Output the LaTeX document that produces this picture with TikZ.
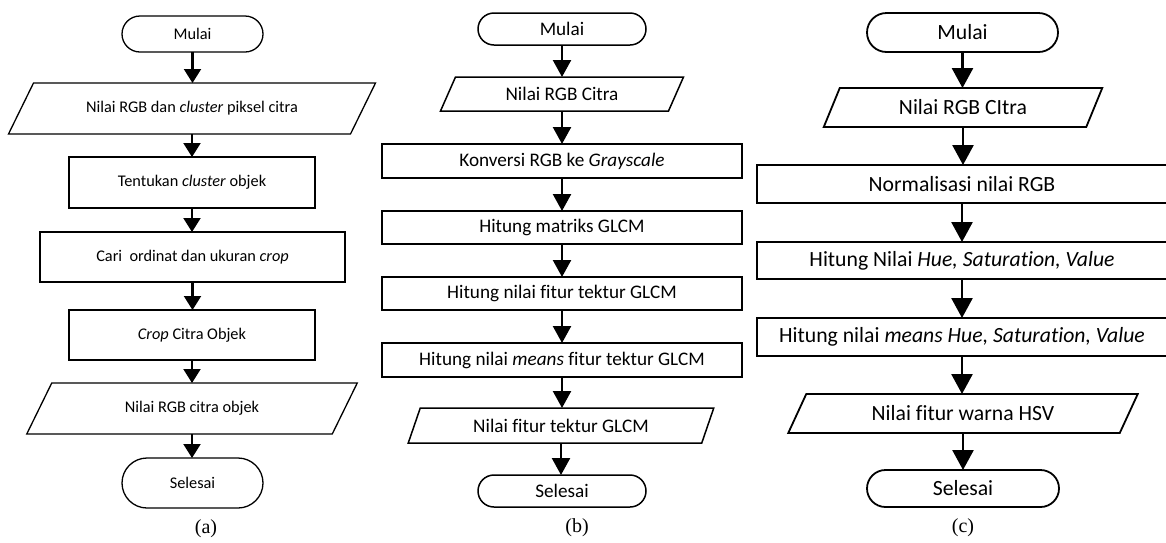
\documentclass[tikz,border=0pt]{standalone}
\usepackage{fontspec}
\setmainfont[Ligatures={NoCommon,NoContextual}]{Carlito}
\newfontfamily\capfont{Liberation Serif}
\usetikzlibrary{arrows.meta}
\newcommand\iopara[3][]{\draw[#1] ([xshift=#3/2]#2.north west) -- ([xshift=#3/2]#2.north east) -- ([xshift=-#3/2]#2.south east) -- ([xshift=-#3/2]#2.south west) -- cycle;}
\begin{document}
\begin{tikzpicture}[x=1pt,y=-1pt,
  base/.style={rectangle, inner sep=0pt, outer sep=0pt, align=center, text=black},
  proc/.style={base, draw},
  term/.style={base, draw},
  io/.style={base},
  pa/.style={font=\fontsize{16.3}{19}\selectfont, line width=1.3pt},
  pb/.style={font=\fontsize{19.2}{23}\selectfont, line width=1.5pt},
  pc/.style={font=\fontsize{21.7}{26}\selectfont, line width=1.8pt},
  arra/.style={line width=2.1pt, -{Triangle[width=17pt,length=14pt]}},
  arrb/.style={line width=2.4pt, -{Triangle[width=18pt,length=17pt]}},
  arrc/.style={line width=2.7pt, -{Triangle[width=21pt,length=20pt]}},
  captxt/.style={font=\capfont\fontsize{20}{24}\selectfont, inner sep=0pt}
]
\useasboundingbox (0,0) rectangle (1166,542);
\fill[white] (0,0) rectangle (1166,542);

% ---------- (a) ----------
\node[term, pa, minimum width=141, minimum height=36, rounded corners=18] (a0) at (192.5,34) {Mulai};
\node[io, pa, minimum width=342, minimum height=51] (a1) at (192,108.5) {Nilai RGB dan \textit{cluster} piksel citra};
\node[proc, pa, minimum width=246, minimum height=51] (a2) at (192,182.5) {Tentukan \textit{cluster} objek};
\node[proc, pa, minimum width=305, minimum height=50] (a3) at (192.5,257) {Cari~ ordinat dan ukuran \textit{crop}};
\node[proc, pa, minimum width=246, minimum height=50] (a4) at (192,335) {\textit{Crop} Citra Objek};
\node[io, pa, minimum width=305.5, minimum height=51] (a5) at (192,408.5) {Nilai RGB citra objek};
\node[term, pa, minimum width=141, minimum height=50, rounded corners=25] (a6) at (192.5,483) {Selesai};
\iopara[line width=1.3pt]{a1}{25}
\iopara[line width=1.3pt]{a5}{25}
\foreach \p/\q in {a0/a1,a1/a2,a2/a3,a3/a4,a4/a5,a5/a6}
  \draw[arra] (\p.south) -- (\p.south |- \q.north);
\node[captxt] (capa) at (206,529) {(a)};

% ---------- (b) ----------
\node[term, pb, minimum width=168, minimum height=32, rounded corners=16] (b0) at (562,29) {Mulai};
\node[io, pb, minimum width=228, minimum height=34] (b1) at (562,94) {Nilai RGB Citra};
\node[proc, pb, minimum width=360, minimum height=34] (b2) at (562,161) {Konversi RGB ke \textit{Grayscale}};
\node[proc, pb, minimum width=360, minimum height=33] (b3) at (562,227.5) {Hitung matriks GLCM};
\node[proc, pb, minimum width=360, minimum height=33] (b4) at (562,293.5) {Hitung nilai fitur tektur GLCM};
\node[proc, pb, minimum width=360, minimum height=34] (b5) at (562,360) {Hitung nilai \textit{means} fitur tektur GLCM};
\node[io, pb, minimum width=293.5, minimum height=35] (b6) at (561,425.5) {Nilai fitur tektur GLCM};
\node[term, pb, minimum width=168, minimum height=32, rounded corners=16] (b7) at (562,491) {Selesai};
\iopara[line width=1.5pt]{b1}{15}
\iopara[line width=1.5pt]{b6}{12}
\foreach \p/\q in {b0/b1,b1/b2,b2/b3,b3/b4,b4/b5,b5/b6,b6/b7}
  \draw[arrb] (\p.south) -- (\p.south |- \q.north);
\node[captxt] (capb) at (577,528) {(b)};

% ---------- (c) ----------
\node[term, pc, minimum width=191, minimum height=39, rounded corners=19.5] (c0) at (962.5,32.5) {Mulai};
\node[io, pc, minimum width=262.5, minimum height=39] (c1) at (963,107.5) {Nilai RGB CItra};
\node[proc, pc, minimum width=410, minimum height=38] (c2) at (962,184) {Normalisasi nilai RGB};
\node[proc, pc, minimum width=410, minimum height=37] (c3) at (962,260.5) {Hitung Nilai \textit{Hue, Saturat\kern0pt ion, Value}};
\node[proc, pc, minimum width=410, minimum height=38] (c4) at (962,337) {Hitung nilai \textit{means Hue, Saturat\kern0pt ion, Value}};
\node[io, pc, minimum width=331.5, minimum height=39] (c5) at (963,413.5) {Nilai fitur warna HSV};
\node[term, pc, minimum width=192, minimum height=37, rounded corners=18.5] (c6) at (963,488.5) {Selesai};
\iopara[line width=1.8pt]{c1}{16}
\iopara[line width=1.8pt]{c5}{18}
\foreach \p/\q in {c0/c1,c1/c2,c2/c3,c3/c4,c4/c5,c5/c6}
  \draw[arrc] (\p.south) -- (\p.south |- \q.north);
\node[captxt] (capc) at (963,528) {(c)};
\end{tikzpicture}
\end{document}
